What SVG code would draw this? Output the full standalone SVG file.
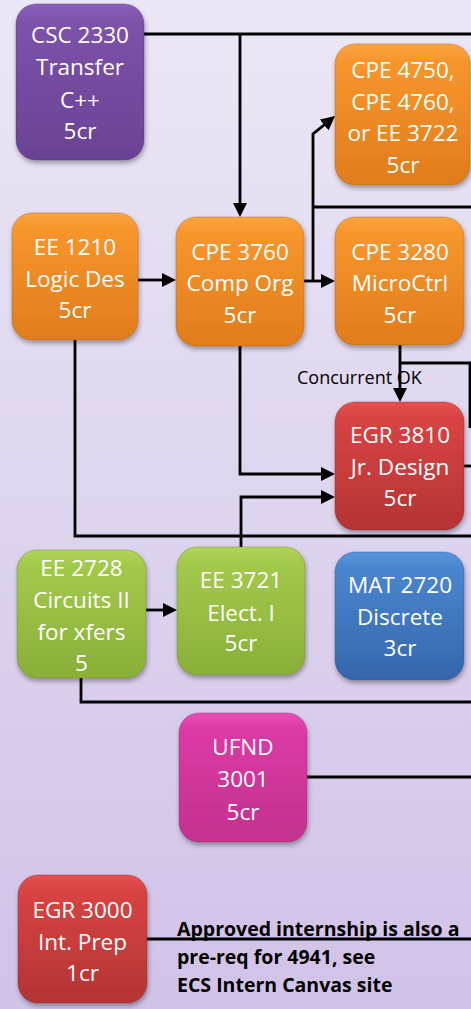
<svg xmlns="http://www.w3.org/2000/svg" width="471" height="1009" viewBox="0 0 471 1009">
<defs>
<linearGradient id="bg" x1="0" y1="0" x2="0" y2="1">
<stop offset="0" stop-color="#ece7f6"/>
<stop offset="1" stop-color="#d1c2e7"/>
</linearGradient>
<linearGradient id="gPurple" x1="0" y1="0" x2="0" y2="1"><stop offset="0" stop-color="#8a5fb8"/><stop offset="0.12" stop-color="#7d52aa"/><stop offset="1" stop-color="#6a4294"/></linearGradient>
<linearGradient id="gOrange" x1="0" y1="0" x2="0" y2="1"><stop offset="0" stop-color="#fba540"/><stop offset="0.12" stop-color="#f7962c"/><stop offset="1" stop-color="#e07c1c"/></linearGradient>
<linearGradient id="gRed" x1="0" y1="0" x2="0" y2="1"><stop offset="0" stop-color="#e65050"/><stop offset="0.12" stop-color="#d94343"/><stop offset="1" stop-color="#b43434"/></linearGradient>
<linearGradient id="gGreen" x1="0" y1="0" x2="0" y2="1"><stop offset="0" stop-color="#b0d55a"/><stop offset="0.12" stop-color="#a3c94b"/><stop offset="1" stop-color="#8aaf38"/></linearGradient>
<linearGradient id="gBlue" x1="0" y1="0" x2="0" y2="1"><stop offset="0" stop-color="#5a95dc"/><stop offset="0.12" stop-color="#4a86d0"/><stop offset="1" stop-color="#3566aa"/></linearGradient>
<linearGradient id="gPink" x1="0" y1="0" x2="0" y2="1"><stop offset="0" stop-color="#ea50b6"/><stop offset="0.12" stop-color="#dc3aa5"/><stop offset="1" stop-color="#c4308f"/></linearGradient>
<filter id="sh" x="-20%" y="-20%" width="140%" height="140%">
<feDropShadow dx="1" dy="3" stdDeviation="2.5" flood-color="#000" flood-opacity="0.35"/>
</filter>
<marker id="arr" viewBox="0 0 14 14" refX="7" refY="7" markerWidth="14" markerHeight="14" markerUnits="userSpaceOnUse" orient="auto">
<path d="M0,0 L14,7 L0,14 z" fill="#000"/>
</marker>
<style>
.node rect{filter:url(#sh);stroke-width:1;stroke-opacity:0.35}
.node text{font-family:"Open Sans","Liberation Sans",sans-serif;font-size:22.5px;fill:#fff;text-anchor:middle}
.conn path{fill:none;stroke:#000;stroke-width:2.8}
.lbl{font-family:"Open Sans","Liberation Sans",sans-serif;fill:#000}
</style>
</defs>
<rect x="0" y="0" width="471" height="1009" fill="url(#bg)"/>

<g id="connectors" class="conn">
<path d="M144,34 H471"/>
<path d="M240,34 V210" marker-end="url(#arr)"/>
<path d="M138,280 H169" marker-end="url(#arr)"/>
<path d="M304,281 H328" marker-end="url(#arr)"/>
<path d="M313,281 V134 L329.6,120.5" marker-end="url(#arr)"/>
<path d="M313,207 H471"/>
<path d="M400,345 V395" marker-end="url(#arr)"/>
<path d="M400,363 H470 V428"/>
<path d="M240,346 V474 H328" marker-end="url(#arr)"/>
<path d="M241,547 V497 H328" marker-end="url(#arr)"/>
<path d="M75,340 V536 H471"/>
<path d="M464,466 H471"/>
<path d="M146,610 H170" marker-end="url(#arr)"/>
<path d="M81,678 V702 H471"/>
<path d="M307,777 H471"/>
<path d="M147,939 H471"/>
</g>

<text class="lbl" x="297" y="384" font-size="18">Concurrent OK</text>

<g id="csc2330" class="node">
<rect x="16" y="4" width="128" height="156" rx="20" fill="url(#gPurple)" stroke="#4a2d68"/>
<text x="80" y="43">CSC 2330</text><text x="80" y="75">Transfer</text><text x="80" y="108">C++</text><text x="80" y="139">5cr</text>
</g>
<g id="cpe4750" class="node">
<rect x="335" y="44" width="135" height="141" rx="20" fill="url(#gOrange)" stroke="#a35a10"/>
<text x="403" y="78">CPE 4750,</text><text x="403" y="110">CPE 4760,</text><text x="403" y="141">or EE 3722</text><text x="403" y="173">5cr</text>
</g>
<g id="ee1210" class="node">
<rect x="12" y="213" width="126" height="127" rx="20" fill="url(#gOrange)" stroke="#a35a10"/>
<text x="75" y="255">EE 1210</text><text x="75" y="287">Logic Des</text><text x="75" y="318">5cr</text>
</g>
<g id="cpe3760" class="node">
<rect x="176" y="217" width="128" height="129" rx="20" fill="url(#gOrange)" stroke="#a35a10"/>
<text x="240" y="260">CPE 3760</text><text x="240" y="291">Comp Org</text><text x="240" y="323">5cr</text>
</g>
<g id="cpe3280" class="node">
<rect x="335" y="217" width="129" height="128" rx="20" fill="url(#gOrange)" stroke="#a35a10"/>
<text x="400" y="260">CPE 3280</text><text x="400" y="291">MicroCtrl</text><text x="400" y="323">5cr</text>
</g>
<g id="egr3810" class="node">
<rect x="335" y="402" width="129" height="128" rx="20" fill="url(#gRed)" stroke="#7e2020"/>
<text x="400" y="443">EGR 3810</text><text x="400" y="475">Jr. Design</text><text x="400" y="506">5cr</text>
</g>
<g id="ee2728" class="node">
<rect x="17" y="550" width="129" height="128" rx="20" fill="url(#gGreen)" stroke="#5e7a22"/>
<text x="81.5" y="576">EE 2728</text><text x="81.5" y="608">Circuits II</text><text x="81.5" y="640">for xfers</text><text x="81.5" y="671">5</text>
</g>
<g id="ee3721" class="node">
<rect x="177" y="547" width="128" height="128" rx="20" fill="url(#gGreen)" stroke="#5e7a22"/>
<text x="241" y="588">EE 3721</text><text x="241" y="621">Elect. I</text><text x="241" y="651">5cr</text>
</g>
<g id="mat2720" class="node">
<rect x="335" y="552" width="129" height="128" rx="20" fill="url(#gBlue)" stroke="#234a80"/>
<text x="400" y="593">MAT 2720</text><text x="400" y="625">Discrete</text><text x="400" y="656">3cr</text>
</g>
<g id="ufnd3001" class="node">
<rect x="179" y="713" width="128" height="129" rx="20" fill="url(#gPink)" stroke="#8a2064"/>
<text x="243" y="755">UFND</text><text x="243" y="787">3001</text><text x="243" y="820">5cr</text>
</g>
<g id="egr3000" class="node">
<rect x="18" y="875" width="129" height="128" rx="20" fill="url(#gRed)" stroke="#7e2020"/>
<text x="82.5" y="918">EGR 3000</text><text x="82.5" y="950">Int. Prep</text><text x="82.5" y="981">1cr</text>
</g>

<g id="note" class="lbl" font-weight="bold" font-size="19.5">
<text x="177" y="936">Approved internship is also a</text>
<text x="177" y="964">pre-req for 4941, see</text>
<text x="177" y="992">ECS Intern Canvas site</text>
</g>
</svg>
